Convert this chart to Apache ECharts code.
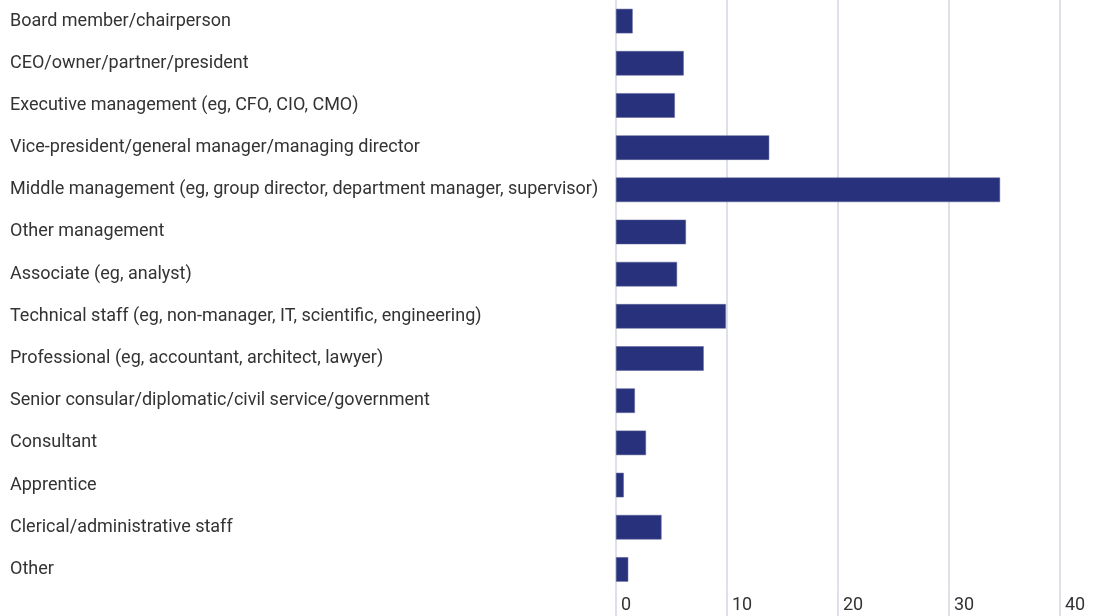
<!DOCTYPE html>
<html>
<head>
<meta charset="utf-8">
<script src="https://cdn.jsdelivr.net/npm/echarts@6/dist/echarts.min.js"></script>
<style>
  html, body { margin: 0; padding: 0; background: #fff; }
  #chart { width: 1099px; height: 616px; }
</style>
</head>
<body>
<div id="chart"></div>
<script>
// 职位类别
const categories = [
  'Board member/chairperson',
  'CEO/owner/partner/president',
  'Executive management (eg, CFO, CIO, CMO)',
  'Vice-president/general manager/managing director',
  'Middle management (eg, group director, department manager, supervisor)',
  'Other management',
  'Associate (eg, analyst)',
  'Technical staff (eg, non-manager, IT, scientific, engineering)',
  'Professional (eg, accountant, architect, lawyer)',
  'Senior consular/diplomatic/civil service/government',
  'Consultant',
  'Apprentice',
  'Clerical/administrative staff',
  'Other'
]

// 百分比
const values = [1.5, 6.1, 5.3, 13.8, 34.6, 6.3, 5.5, 9.9, 7.9, 1.7, 2.7, 0.7, 4.1, 1.1]

const xTicks = [0, 10, 20, 30, 40]

const chart = echarts.init(document.getElementById('chart'))

const option = {
  animation: false,
  grid: {
    left: 616,
    right: 39,
    top: -1.5,
    bottom: 25.5,
    containLabel: false
  },
  xAxis: {
    type: 'value',
    min: xTicks[0],
    max: xTicks[xTicks.length - 1],
    interval: 10,
    axisLine: { show: false },
    axisTick: {
      show: true,
      length: 26,
      lineStyle: { color: '#d2d8e0', width: 1.5 }
    },
    splitLine: {
      show: true,
      lineStyle: { color: '#d2d8e0', width: 1.5 }
    },
    axisLabel: {
      color: '#333333',
      fontFamily: 'Roboto',
      fontSize: 18,
      align: 'left',
      margin: 6,
      padding: [0, 0, 0, 5]
    }
  },
  yAxis: {
    type: 'category',
    data: categories,
    inverse: true,
    axisLine: { show: false },
    axisTick: { show: false },
    splitLine: { show: false },
    axisLabel: {
      color: '#333333',
      fontFamily: 'Roboto',
      fontSize: 18,
      align: 'left',
      margin: 606
    }
  },
  series: [
    {
      type: 'bar',
      data: values,
      barWidth: 24.5,
      itemStyle: {
        color: '#28317c',
        borderColor: '#5a6199',
        borderWidth: 0.5
      }
    }
  ]
}

chart.setOption(option)
</script>
</body>
</html>
